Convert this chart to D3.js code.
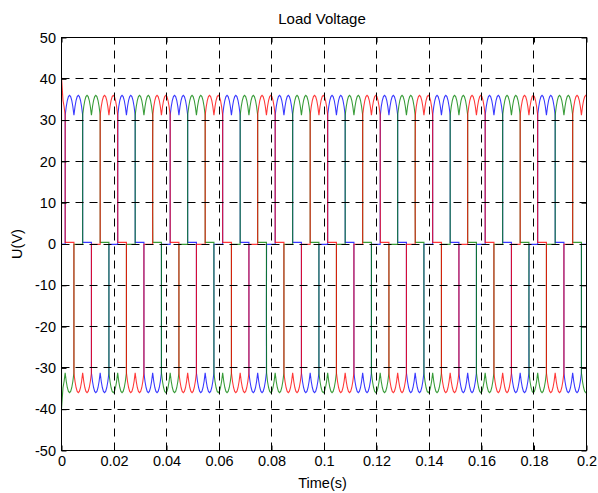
<!DOCTYPE html>
<html>
<head>
<meta charset="utf-8">
<script src="https://cdn.jsdelivr.net/npm/d3@7"></script>
<style>
  body { margin: 0; background: #fff; }
  text { font-family: Arial, "Liberation Sans", Helvetica, sans-serif; }
</style>
</head>
<body>
<div id="chart"></div>
<script>
// tick values of the axes
var xTicks = [0, 0.02, 0.04, 0.06, 0.08, 0.1, 0.12, 0.14, 0.16, 0.18, 0.2];
var yTicks = [-50, -40, -30, -20, -10, 0, 10, 20, 30, 40, 50];

// switching data (120 deg conduction, 50 Hz)
var period = 0.02;
var firstSwitch = 0.0014;          // first change of the phase on the + rail
var phaseNames = ["blue", "green", "red"];
var phaseColors = ["#0000ff", "#008000", "#ff0000"];
// rail state of each phase in the six 60 deg slots of a period
var stateBlue  = [-1, 0, 1, 1, 0, -1];
var stateGreen = [0, -1, -1, 0, 1, 1];
var stateRed   = [1, 1, 0, -1, -1, 0];
// one ripple pulse on the rail, cusp -> crest -> cusp (V)
var ripple = [31.2, 33.3, 34.8, 35.7, 36.0, 35.7, 34.8, 33.3, 31.2];
// level of a floating phase after leaving the + / - rail
var zeroLevels = [0.4, -0.1];
// jump at t = 0 (blue, green, red)
var startSpike = [0, -40, 40.5];
// switchings caught mid-way by the solver
var glitchTime  = [0.0214, 0.0347, 0.0780, 0.1214, 0.1347, 0.1780];
var glitchLeave = [24.5, 8.2, -15.5, 24.0, 7.5, -17.6];
var glitchEnter = [6.5, 23.6, -15.5, 6.2, 22.5, -13.6];

var W = 598, H = 493;
var pLeft = 61.5, pRight = 586.5, pTop = 37.5, pBottom = 450.5;

var svg = d3.select("#chart").append("svg")
  .attr("width", W).attr("height", H)
  .style("background", "#fff");

var x = d3.scaleLinear().domain([0, 0.2]).range([pLeft, pRight]);
var y = d3.scaleLinear().domain([-50, 50]).range([pBottom, pTop]);

// build one phase from its slot pattern
var slot = period / 6;
var slot0 = firstSwitch - 2 * slot;
function buildPhase(states, spike) {
  var pts = [];
  var jStart = Math.floor((0 - slot0) / slot);
  var jEnd = Math.ceil((0.2 - slot0) / slot);
  for (var j = jStart; j <= jEnd; j++) {
    var s = states[((j % 6) + 6) % 6];
    var prev = states[(((j - 1) % 6) + 6) % 6];
    var t0 = slot0 + j * slot;
    var shift = 0;
    if (s !== prev) {
      glitchTime.forEach(function (g, i) {
        if (Math.abs(g - t0) < 0.0005) {
          pts.push([t0, s === 0 ? glitchLeave[i] : glitchEnter[i]]);
          shift = 0.00006;
        }
      });
    }
    if (s === 0) {
      var z = prev > 0 ? zeroLevels[0] : zeroLevels[1];
      pts.push([t0 + shift, z]);
      pts.push([t0 + slot, z]);
    } else {
      ripple.forEach(function (v, i) {
        var t = t0 + i / (ripple.length - 1) * slot;
        if (i === 0) t += shift;
        pts.push([t, s * v]);
      });
    }
  }
  var minT = spike !== 0 ? 0.0003 : 0;
  pts = pts.filter(function (p) { return p[0] >= minT; });
  var head = [[0, 0]];
  if (spike !== 0) head.push([0, spike]);
  return head.concat(pts);
}

var phases = [stateBlue, stateGreen, stateRed].map(function (st, i) {
  return { name: phaseNames[i], color: phaseColors[i], pts: buildPhase(st, startSpike[i]) };
});

svg.append("defs").append("clipPath").attr("id", "plotclip")
  .append("rect")
  .attr("x", pLeft).attr("y", pTop)
  .attr("width", pRight - pLeft).attr("height", pBottom - pTop);

var line = d3.line()
  .x(function (d) { return x(d[0]); })
  .y(function (d) { return y(d[1]); });

svg.append("g").attr("clip-path", "url(#plotclip)")
  .selectAll("path")
  .data(phases)
  .enter()
  .append("path")
  .attr("d", function (d) { return line(d.pts); })
  .attr("fill", "none")
  .attr("stroke", function (d) { return d.color; })
  .attr("stroke-width", 1.1)
  .attr("stroke-opacity", 0.78);

// dashed grid, on top like the original
function px(v) { return Math.round(v - 0.5) + 0.5; }
var grid = svg.append("g")
  .attr("stroke", "#000")
  .attr("stroke-width", 1)
  .attr("stroke-dasharray", "8,6");
grid.selectAll("line.vx")
  .data(xTicks.slice(1, -1))
  .enter().append("line")
  .attr("x1", function (d) { return px(x(d)); })
  .attr("x2", function (d) { return px(x(d)); })
  .attr("y1", pBottom).attr("y2", pTop);
grid.selectAll("line.hy")
  .data(yTicks.slice(1, -1))
  .enter().append("line")
  .attr("y1", function (d) { return px(y(d)); })
  .attr("y2", function (d) { return px(y(d)); })
  .attr("x1", pLeft).attr("x2", pRight);

// axes, ticks pointing inwards on all four sides
function styleAxis(g) {
  g.select(".domain").remove();
  g.selectAll(".tick line").attr("stroke", "#000");
  g.selectAll("text")
    .attr("fill", "#000")
    .style("font-size", "14.5px")
    .style("font-family", "Arial, 'Liberation Sans', sans-serif");
}
svg.append("g")
  .attr("transform", "translate(0," + pBottom + ")")
  .call(d3.axisBottom(x).tickValues(xTicks).tickSize(-5).tickPadding(5)
    .tickFormat(function (d) { return String(d); }))
  .call(styleAxis);
svg.append("g")
  .attr("transform", "translate(0," + pTop + ")")
  .call(d3.axisTop(x).tickValues(xTicks).tickSize(-5).tickFormat(""))
  .call(styleAxis);
svg.append("g")
  .attr("transform", "translate(" + pLeft + ",0)")
  .call(d3.axisLeft(y).tickValues(yTicks).tickSize(-5).tickPadding(5.5)
    .tickFormat(function (d) { return String(d); }))
  .call(styleAxis);
svg.append("g")
  .attr("transform", "translate(" + pRight + ",0)")
  .call(d3.axisRight(y).tickValues(yTicks).tickSize(-5).tickFormat(""))
  .call(styleAxis);

// box
svg.append("rect")
  .attr("x", pLeft).attr("y", pTop)
  .attr("width", pRight - pLeft).attr("height", pBottom - pTop)
  .attr("fill", "none").attr("stroke", "#000").attr("stroke-width", 1);

// titles
svg.append("text")
  .attr("x", 322).attr("y", 24)
  .attr("text-anchor", "middle")
  .style("font-size", "15px")
  .text("Load Voltage");
svg.append("text")
  .attr("x", 322.5).attr("y", 487.5)
  .attr("text-anchor", "middle")
  .style("font-size", "14.5px")
  .text("Time(s)");
svg.append("text")
  .attr("transform", "translate(22,244) rotate(-90)")
  .attr("text-anchor", "middle")
  .style("font-size", "14.5px")
  .text("U(V)");
</script>
</body>
</html>
